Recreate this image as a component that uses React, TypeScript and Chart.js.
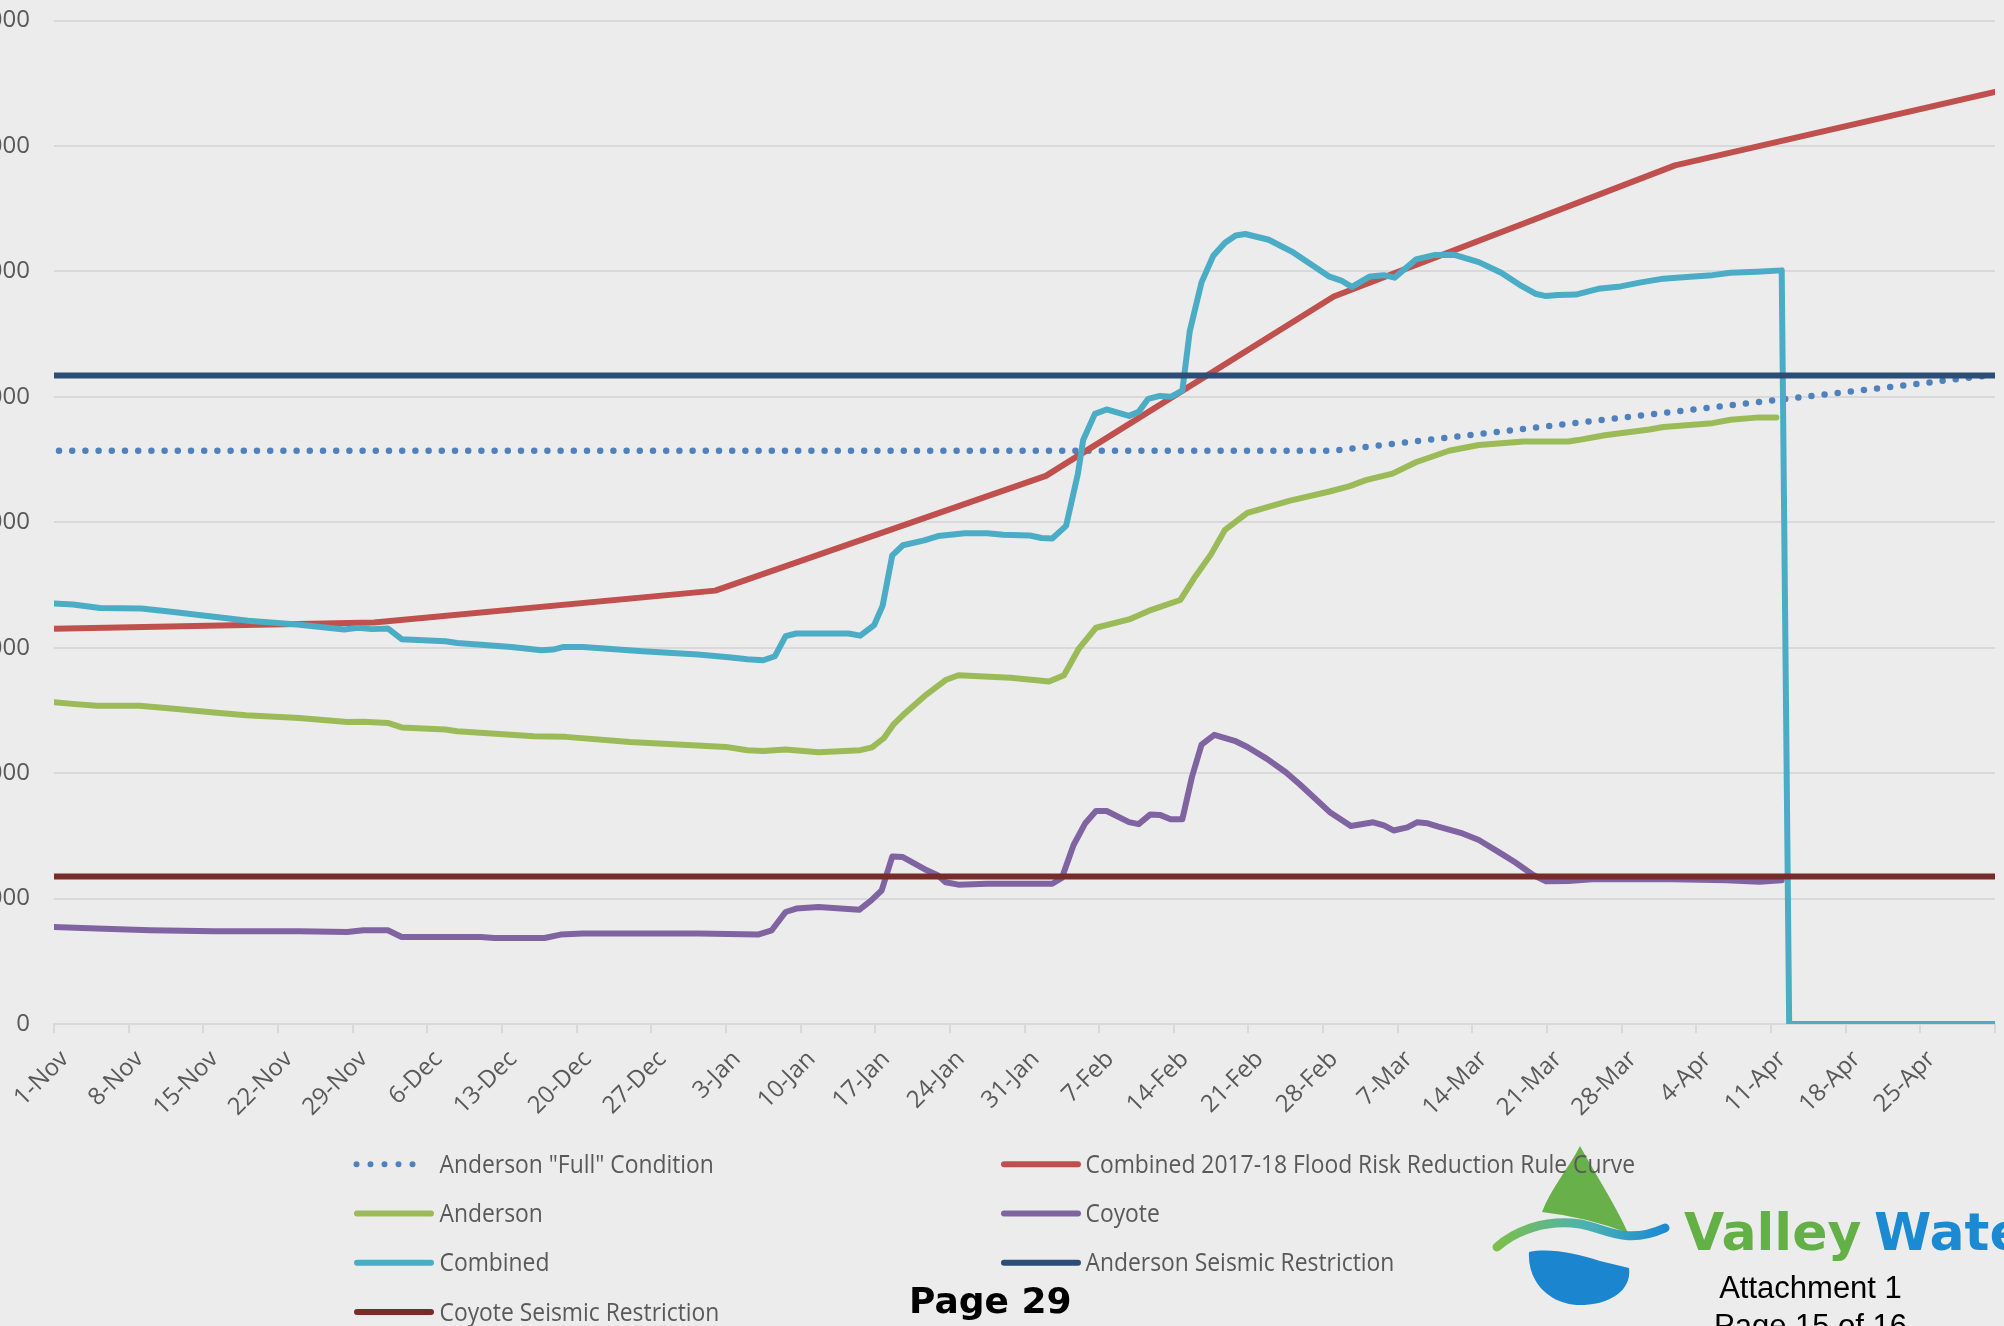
import React, { useEffect, useRef } from 'react';
import { Chart, registerables } from 'chart.js';

Chart.register(...registerables);

// ---------- DATA ----------
// x = days after 1-Nov-2017, y = storage (acre-feet)
const tickLabels = ['1-Nov', '8-Nov', '15-Nov', '22-Nov', '29-Nov', '6-Dec', '13-Dec', '20-Dec', '27-Dec', '3-Jan', '10-Jan', '17-Jan', '24-Jan', '31-Jan', '7-Feb', '14-Feb', '21-Feb', '28-Feb', '7-Mar', '14-Mar', '21-Mar', '28-Mar', '4-Apr', '11-Apr', '18-Apr', '25-Apr', ''];
const yTickValues = [0, 10000, 20000, 30000, 40000, 50000, 60000, 70000, 80000];

const seriesNames = [
  'Anderson "Full" Condition',
  'Combined 2017-18 Flood Risk Reduction Rule Curve',
  'Anderson',
  'Coyote',
  'Combined',
  'Anderson Seismic Restriction',
  'Coyote Seismic Restriction',
];

const fullConditionDays = [0, 120, 182];
const fullConditionValues = [45700, 45700, 51750];

const ruleCurveDays = [0, 30, 62, 93, 120, 152, 182];
const ruleCurveValues = [31500, 32000, 34550, 43700, 58000, 68450, 74300];

const andersonDays = [0, 2, 4, 8, 11, 15, 18, 23, 27.5, 29, 31.3, 32.6, 36.7, 37.8, 45, 48, 54, 63, 65, 66.5, 68.6, 71.7, 75.6, 76.7, 77.8, 78.7, 79.8, 81.8, 83.6, 84.8, 89.7, 93.3, 94.7, 96.1, 97.7, 100.8, 102.9, 105.6, 106.9, 108.5, 109.8, 111.9, 115.9, 119.6, 121.5, 123, 125.5, 127.7, 130.8, 133.6, 137.8, 142, 142.9, 145.4, 149.6, 150.9, 155.5, 157.2, 159.9, 161.5];
const andersonValues = [25650, 25500, 25380, 25370, 25150, 24830, 24620, 24400, 24080, 24100, 24000, 23640, 23480, 23340, 22940, 22890, 22490, 22090, 21830, 21770, 21880, 21670, 21830, 22050, 22780, 23860, 24780, 26260, 27420, 27800, 27610, 27300, 27810, 29930, 31590, 32250, 33020, 33800, 35530, 37460, 39400, 40750, 41720, 42450, 42880, 43360, 43880, 44780, 45700, 46160, 46440, 46440, 46550, 46940, 47400, 47590, 47900, 48170, 48360, 48360];

const coyoteDays = [0, 4, 9, 15, 23, 27.5, 29, 31.3, 32.6, 40, 41.3, 46, 47.5, 49.6, 60.4, 66, 67.3, 68.6, 69.6, 71.7, 75.5, 76.6, 77.6, 78.6, 79.6, 81.8, 82.9, 83.6, 84.8, 87.5, 93.6, 94.5, 95.6, 96.7, 97.7, 98.7, 100.8, 101.7, 102.8, 103.7, 104.7, 105.8, 106.7, 107.6, 108.8, 110.7, 111.9, 113.7, 115.5, 116.8, 119.6, 121.6, 123.7, 124.7, 125.6, 126.9, 127.8, 128.8, 129.8, 131.9, 133.6, 135.7, 137, 138.7, 139.9, 142, 144.2, 150.5, 156.8, 159.9, 162];
const coyoteValues = [7740, 7610, 7470, 7390, 7390, 7340, 7470, 7470, 6940, 6940, 6860, 6860, 7130, 7210, 7210, 7130, 7470, 8930, 9200, 9330, 9100, 9830, 10640, 13350, 13310, 12270, 11840, 11300, 11110, 11180, 11180, 11640, 14270, 16010, 16980, 16980, 16090, 15930, 16710, 16670, 16320, 16320, 19690, 22270, 23050, 22580, 22080, 21160, 20070, 19110, 16910, 15780, 16080, 15830, 15430, 15680, 16080, 16000, 15740, 15240, 14670, 13580, 12890, 11880, 11380, 11400, 11530, 11560, 11450, 11340, 11450];

const combinedDays = [0, 1.8, 4.3, 8.2, 11, 18.2, 22.8, 27.2, 28.5, 29.8, 31.3, 32.6, 36.7, 37.8, 42.9, 45.7, 46.8, 47.8, 49.6, 55.2, 60.4, 63.5, 65, 66.5, 67.6, 68.6, 69.6, 74.5, 75.6, 76.9, 77.7, 78.6, 79.6, 81.6, 82.9, 85.4, 87.5, 89, 91.5, 92.6, 93.6, 94.9, 96, 96.5, 97.6, 98.7, 100.8, 101.7, 102.6, 103.7, 104.7, 105.8, 106.5, 107.6, 108.7, 109.8, 110.8, 111.7, 113.9, 116.2, 119.6, 120.7, 121.7, 123.4, 124.7, 125.7, 127.7, 129.4, 131.3, 133.6, 135.7, 137.6, 138.9, 139.9, 141, 142.7, 144.8, 146.9, 148.8, 150.9, 153.4, 155.5, 157.2, 159.7, 162, 162.7, 182];
const combinedValues = [33520, 33440, 33170, 33120, 32860, 32140, 31850, 31450, 31580, 31480, 31530, 30680, 30520, 30380, 30060, 29800, 29850, 30060, 30060, 29720, 29450, 29220, 29080, 29000, 29320, 30920, 31130, 31130, 30960, 31800, 33350, 37360, 38170, 38550, 38900, 39130, 39130, 39010, 38940, 38740, 38710, 39710, 43840, 46550, 48640, 48990, 48480, 48800, 49840, 50070, 50000, 50490, 55250, 59120, 61250, 62280, 62860, 62980, 62520, 61510, 59580, 59270, 58760, 59600, 59700, 59500, 60950, 61300, 61320, 60740, 59890, 58840, 58220, 58030, 58110, 58150, 58610, 58800, 59120, 59420, 59580, 59700, 59890, 59970, 60080, 0, 0];

const andersonSeismicDays = [0, 182];
const andersonSeismicValues = [51700, 51700];

const coyoteSeismicDays = [0, 182];
const coyoteSeismicValues = [11750, 11750];

// ---------- STYLE ----------
const seriesColors = ['#4f81bd', '#c0504d', '#9bbb59', '#8064a2', '#4bacc6', '#2c4d75', '#772c2a'];
const BG = '#ececec';
const GRID = '#d9d9d9';
const TEXT = '#595959';

const toPoints = (xs: number[], ys: number[]) => xs.map((x, i) => ({ x, y: ys[i] }));

const seriesData = [
  toPoints(fullConditionDays, fullConditionValues),
  toPoints(ruleCurveDays, ruleCurveValues),
  toPoints(andersonDays, andersonValues),
  toPoints(coyoteDays, coyoteValues),
  toPoints(combinedDays, combinedValues),
  toPoints(andersonSeismicDays, andersonSeismicValues),
  toPoints(coyoteSeismicDays, coyoteSeismicValues),
];

export default function App() {
  const ref = useRef<HTMLCanvasElement>(null);

  useEffect(() => {
    if (!ref.current) return;
    const datasets = seriesNames.map((name, i) => ({
      label: name,
      data: seriesData[i],
      borderColor: seriesColors[i],
      backgroundColor: seriesColors[i],
      borderWidth: i === 0 ? 6.5 : 6,
      borderDash: i === 0 ? [0, 13.2] : [],
      borderDashOffset: i === 0 ? 8.2 : 0,
      borderCapStyle: 'round' as const,
      borderJoinStyle: 'round' as const,
      pointRadius: 0,
      pointHoverRadius: 0,
      tension: 0,
      fill: false,
      order: seriesNames.length - i,
    }));

    const chart = new Chart(ref.current, {
      type: 'line',
      data: { datasets },
      options: {
        animation: false,
        responsive: false,
        events: [],
        layout: { padding: { top: 20.5, right: 12, left: 0, bottom: 0 } },
        plugins: { legend: { display: false }, tooltip: { enabled: false } },
        scales: {
          x: {
            type: 'linear',
            min: 0,
            max: 182,
            afterFit: (s: any) => { s.height = 116; s.paddingLeft = 0; s.paddingRight = 0; },
            grid: { display: true, drawOnChartArea: false, drawTicks: true, tickLength: 9, color: GRID, lineWidth: 2 },
            border: { display: true, color: GRID, width: 2 },
            ticks: {
              stepSize: 7,
              autoSkip: false,
              minRotation: 45,
              maxRotation: 45,
              padding: 12,
              labelOffset: 11,
              color: TEXT,
              font: { family: "'Open Sans'", size: 24 },
              callback: (v: any) => tickLabels[Math.round(Number(v) / 7)] ?? '',
            },
          },
          y: {
            min: yTickValues[0],
            max: yTickValues[yTickValues.length - 1],
            afterFit: (s: any) => { s.width = 94; s.paddingTop = 0; s.paddingBottom = 0; },
            grid: { color: GRID, lineWidth: 2, drawTicks: false },
            border: { display: false },
            ticks: {
              stepSize: yTickValues[1] - yTickValues[0],
              padding: 24,
              color: TEXT,
              font: { family: "'Open Sans'", size: 24 },
              callback: (v: any) => Number(v).toLocaleString('en-US'),
            },
          },
        },
      },
    });
    return () => chart.destroy();
  }, []);

  const rowBase = [1172.7, 1222, 1271.3, 1320.6];
  const colMarkX = [357, 1004];
  const colTextX = [439.5, 1085.5];

  return (
    <div style={{ position: 'fixed', left: 0, top: 0, width: 2004, height: 1326, overflow: 'hidden', background: BG }}>
      <canvas
        ref={ref}
        width={2047}
        height={1140}
        style={{ position: 'absolute', left: -40, top: 0, width: 2047, height: 1140 }}
      />
      <svg width={2004} height={1326} style={{ position: 'absolute', left: 0, top: 0 }}>
        <defs>
          <linearGradient id="swoosh" x1="1497" y1="0" x2="1665" y2="0" gradientUnits="userSpaceOnUse">
            <stop offset="0" stopColor="#7cbf4a" />
            <stop offset="0.55" stopColor="#4bb0b4" />
            <stop offset="1" stopColor="#1b8ad3" />
          </linearGradient>
        </defs>
        {/* logo */}
        <path d="M1580,1146 C1570,1166 1550,1190 1542,1212 Q1586,1217 1628,1233 C1614,1202 1593,1170 1580,1146 Z" fill="#68b04a" />
        <path d="M1497,1247 C1515,1231 1545,1219 1580,1224 C1605,1228 1625,1246 1665,1228" stroke="url(#swoosh)" strokeWidth={9} fill="none" strokeLinecap="round" />
        <path d="M1529,1252 C1550,1248 1575,1253 1600,1261 L1629,1268 C1632,1291 1609,1305 1580,1305 C1551,1305 1527,1283 1529,1252 Z" fill="#1b86cf" />
        <text x={1684} y={1250} fontFamily="'DejaVu Sans'" fontWeight="bold" fontSize={52} fill="#62b046">Valley</text>
        <text x={1874} y={1250} fontFamily="'DejaVu Sans'" fontWeight="bold" fontSize={52} fill="#1b8ad3">Water</text>
        <text x={1810.5} y={1298} textAnchor="middle" fontFamily="'Liberation Sans', Arial" fontSize={31} fill="#000">Attachment 1</text>
        <text x={1810.5} y={1336} textAnchor="middle" fontFamily="'Liberation Sans', Arial" fontSize={31} fill="#000">Page 15 of 16</text>
        {/* legend */}
        {seriesNames.map((name, i) => {
          const row = Math.floor(i / 2);
          const col = i % 2;
          const base = rowBase[row];
          const ly = base - 8.5;
          const x0 = colMarkX[col];
          return (
            <g key={name}>
              {i === 0 ? (
                <line x1={x0 - 0.5} y1={ly} x2={x0 + 69.5} y2={ly} stroke={seriesColors[i]} strokeWidth={6} strokeDasharray="0 14" strokeLinecap="round" />
              ) : (
                <line x1={x0} y1={ly} x2={x0 + 74} y2={ly} stroke={seriesColors[i]} strokeWidth={6} strokeLinecap="round" />
              )}
              <g transform={`translate(${colTextX[col]},${base}) scale(0.88,1)`}>
                <text x={0} y={0} fontFamily="'Open Sans'" fontSize={26} fill={TEXT}>{name}</text>
              </g>
            </g>
          );
        })}
        <text x={909} y={1313} fontFamily="'DejaVu Sans'" fontWeight="bold" fontSize={36} fill="#000">Page 29</text>
      </svg>
    </div>
  );
}
